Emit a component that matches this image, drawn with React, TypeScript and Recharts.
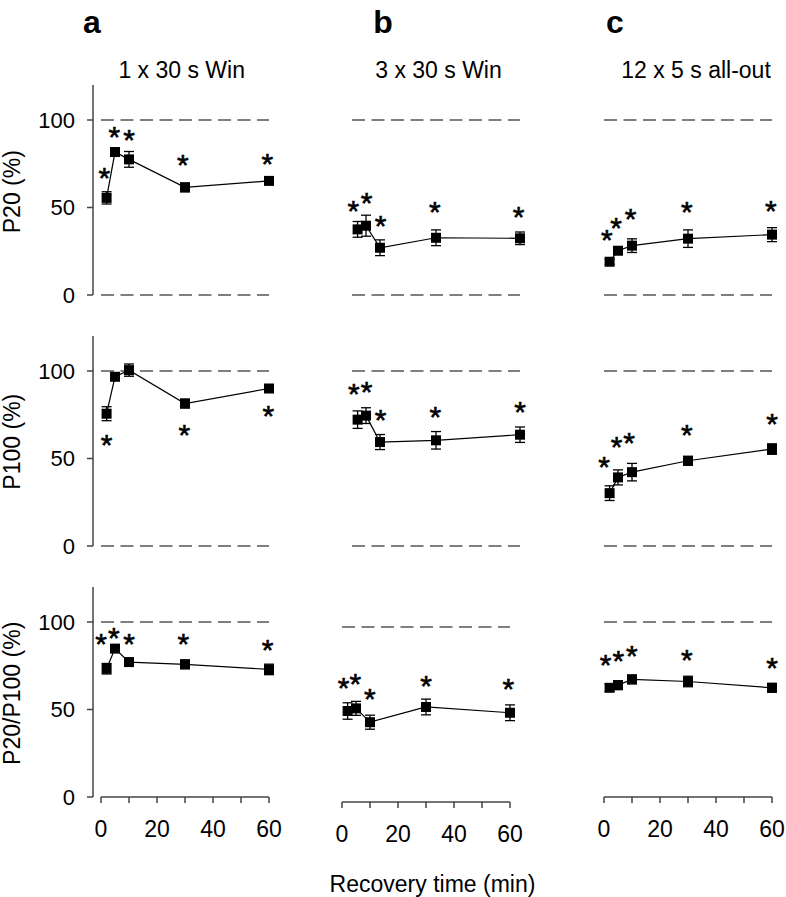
import React from 'react';
import { ComposedChart, Line, Scatter, XAxis, YAxis, ErrorBar, ReferenceLine } from 'recharts';

// recovery time points (min) and axis ticks
const TIMES = [2, 5, 10, 30, 60];
const X_TICKS = [0, 10, 20, 30, 40, 50, 60];
const Y_TICKS = [0, 50, 100];

const PANEL_LETTERS = ['a', 'b', 'c'];
const PANEL_TITLES = ['1 x 30 s Win', '3 x 30 s Win', '12 x 5 s all-out'];
const ROW_LABELS = ['P20 (%)', 'P100 (%)', 'P20/P100 (%)'];
const X_LABEL = 'Recovery time (min)';

// a: 1 x 30 s Win
const A_P20 = [55.5, 81.7, 77.5, 61.5, 65.2];
const A_P20_SEM = [3.5, 2, 4.5, 2.5, 2];
const A_P20_STARS = [[1.2, 70.5], [4.8, 93.9], [10, 92.4], [29.2, 78], [59.4, 78.7]];
const A_P100 = [75.6, 96.7, 100.5, 81.4, 90];
const A_P100_SEM = [4, 2, 3.5, 2.5, 2];
const A_P100_STARS = [[2, 61.7], [29.8, 67.4], [59.8, 77.9]];
const A_RATIO = [73.3, 84.8, 77.1, 75.8, 72.9];
const A_RATIO_SEM = [3, 2, 2, 2.5, 3];
const A_RATIO_STARS = [[0, 91], [4.6, 94.3], [10, 91], [29.4, 91], [59.5, 87.8]];

// b: 3 x 30 s Win
const B_P20 = [37.5, 39.6, 27, 32.7, 32.4];
const B_P20_SEM = [4.5, 6, 4.5, 4.5, 3.6];
const B_P20_STARS = [[0.5, 52], [5.2, 56.2], [10.2, 42.9], [29.6, 51], [59.5, 48.2]];
const B_P100 = [72.2, 74.5, 59.4, 60.4, 63.6];
const B_P100_SEM = [5, 4.5, 4.3, 5, 4.4];
const B_P100_STARS = [[0.7, 90.7], [5.2, 91.7], [10.2, 76], [29.8, 77.5], [60, 80.2]];
const B_RATIO = [52, 53.5, 45.6, 54.3, 51];
const B_RATIO_SEM = [4.7, 4, 4, 4.5, 4.5];
const B_RATIO_STARS = [[0.6, 68.7], [4.8, 71.2], [9.9, 62.4], [30, 70], [59.4, 68.1]];

// c: 12 x 5 s all-out
const C_P20 = [19, 25.3, 28.2, 32.2, 34.5];
const C_P20_SEM = [1.5, 2, 3.9, 5, 4];
const C_P20_STARS = [[1, 35.2], [4.3, 41.9], [9.5, 47], [29.6, 51.4], [59.6, 52]];
const C_P100 = [30.2, 39.2, 42.2, 48.7, 55.4];
const C_P100_SEM = [4.2, 4.3, 5, 2.5, 3];
const C_P100_STARS = [[0, 48.7], [4.5, 60.2], [9, 62.6], [29.6, 67], [60, 73.2]];
const C_RATIO = [62.4, 63.9, 67.2, 66, 62.4];
const C_RATIO_SEM = [2, 2.5, 2.5, 3, 2.5];
const C_RATIO_STARS = [[0.6, 79], [5.1, 81.5], [9.9, 84.4], [29.6, 81.9], [60, 77.7]];

const FONT = '"Liberation Sans", Arial, Helvetica, sans-serif';

// layout
const COL_X0 = [101, 352, 604]; // pixel of t = 0
const ROW_Y0 = [295, 546, 797]; // pixel of value = 0
const PLOT_H = 210;
const PAD_L = 8;
const PAD_R = 6;
const PLOT_W = PAD_L + 168 + PAD_R;
const Y_AXIS_W = 93;
const M_TOP = 10;
const M_RIGHT = 10;
const M_BOTTOM = 14;
const X_AXIS_H = 45;

const toPoints = (vals: number[], sem: number[]) =>
  TIMES.map((t, i) => ({ t, v: vals[i], e: sem[i] }));
const toStars = (stars: number[][]) => stars.map(([t, v]) => ({ t, v }));

const renderSquare = (p: any) => (
  <rect key={`sq-${p.index}`} x={p.cx - 5} y={p.cy - 5} width={10} height={10} fill="#000" />
);

const renderStar = (p: any) => (
  <text
    x={p.cx}
    y={p.cy + 16.5}
    textAnchor="middle"
    fontSize={30}
    fontFamily={FONT}
    fill="#000"
    stroke="#000"
    strokeWidth={0.6}
  >
    *
  </text>
);

interface PanelProps {
  values: number[];
  sem: number[];
  stars: number[][];
  row: number;
  col: number;
  shiftX?: number;
  shiftY?: number;
}

function Panel({ values, sem, stars, row, col, shiftX = 0, shiftY = 0 }: PanelProps) {
  const showY = col === 0;
  const showX = row === 2;
  const x0 = COL_X0[col] + shiftX;
  const y0 = ROW_Y0[row] + shiftY;
  const left = x0 - PAD_L - (showY ? Y_AXIS_W : 0);
  const top = y0 - PLOT_H - M_TOP;
  const width = (showY ? Y_AXIS_W : 0) + PLOT_W + M_RIGHT;
  const height = M_TOP + PLOT_H + (showX ? X_AXIS_H : 0) + M_BOTTOM;

  return (
    <div style={{ position: 'absolute', left, top }}>
      <ComposedChart
        width={width}
        height={height}
        margin={{ top: M_TOP, right: M_RIGHT, bottom: M_BOTTOM, left: 0 }}
      >
        <XAxis
          type="number"
          dataKey="t"
          domain={[0, 60]}
          ticks={X_TICKS}
          hide={!showX}
          height={X_AXIS_H}
          padding={{ left: PAD_L, right: PAD_R }}
          axisLine={false}
          tickLine={{ stroke: '#444', strokeWidth: 1.5 }}
          tickSize={6}
          tickMargin={18}
          tickFormatter={(v: number) => (v % 20 === 0 ? String(v) : '')}
          tick={{ fontSize: 23, fill: '#000', fontFamily: FONT }}
          interval={0}
        />
        <YAxis
          type="number"
          domain={[0, 120]}
          ticks={Y_TICKS}
          hide={!showY}
          width={Y_AXIS_W}
          axisLine={{ stroke: '#444', strokeWidth: 1.5 }}
          tickLine={{ stroke: '#444', strokeWidth: 1.5 }}
          tickSize={6}
          tickMargin={12}
          tick={{ fontSize: 22, fill: '#000', fontFamily: FONT }}
          interval={0}
        />
        <ReferenceLine
          segment={[{ x: 0, y: 100 }, { x: 60, y: 100 }]}
          stroke="#555"
          strokeWidth={1.5}
          strokeDasharray="13 6.5"
        />
        {showX ? (
          <ReferenceLine segment={[{ x: 0, y: 0 }, { x: 60, y: 0 }]} stroke="#444" strokeWidth={1.5} />
        ) : (
          <ReferenceLine
            segment={[{ x: 0, y: 0 }, { x: 60, y: 0 }]}
            stroke="#555"
            strokeWidth={1.5}
            strokeDasharray="13 6.5"
          />
        )}
        <Line
          data={toPoints(values, sem)}
          dataKey="v"
          type="linear"
          stroke="#000"
          strokeWidth={1.2}
          dot={renderSquare}
          activeDot={false}
          isAnimationActive={false}
        >
          <ErrorBar dataKey="e" width={5} stroke="#000" strokeWidth={1.3} direction="y" />
        </Line>
        <Scatter data={toStars(stars)} dataKey="v" shape={renderStar} isAnimationActive={false} />
      </ComposedChart>
    </div>
  );
}

export default function App() {
  return (
    <div
      style={{
        position: 'absolute',
        left: 0,
        top: 0,
        width: 786,
        height: 897,
        background: '#fff',
        fontFamily: FONT,
      }}
    >
      <Panel values={A_P20} sem={A_P20_SEM} stars={A_P20_STARS} row={0} col={0} />
      <Panel values={A_P100} sem={A_P100_SEM} stars={A_P100_STARS} row={1} col={0} />
      <Panel values={A_RATIO} sem={A_RATIO_SEM} stars={A_RATIO_STARS} row={2} col={0} />

      <Panel values={B_P20} sem={B_P20_SEM} stars={B_P20_STARS} row={0} col={1} />
      <Panel values={B_P100} sem={B_P100_SEM} stars={B_P100_STARS} row={1} col={1} />
      <Panel values={B_RATIO} sem={B_RATIO_SEM} stars={B_RATIO_STARS} row={2} col={1} shiftX={-10} shiftY={5} />

      <Panel values={C_P20} sem={C_P20_SEM} stars={C_P20_STARS} row={0} col={2} />
      <Panel values={C_P100} sem={C_P100_SEM} stars={C_P100_STARS} row={1} col={2} />
      <Panel values={C_RATIO} sem={C_RATIO_SEM} stars={C_RATIO_STARS} row={2} col={2} />

      {/* letters, titles and axis labels */}
      <svg
        width={786}
        height={897}
        style={{ position: 'absolute', left: 0, top: 0, pointerEvents: 'none' }}
        fontFamily={FONT}
      >
        {PANEL_LETTERS.map((l, i) => (
          <text key={l} x={[92, 383, 615][i]} y={33} textAnchor="middle" fontSize={32} fontWeight="bold">
            {l}
          </text>
        ))}
        {PANEL_TITLES.map((t, i) => (
          <text key={t} x={[181.7, 438.5, 696][i]} y={78.3} textAnchor="middle" fontSize={23}>
            {t}
          </text>
        ))}
        {ROW_LABELS.map((t, i) => (
          <text
            key={t}
            transform={`translate(20,${[191.7, 441.7, 693.3][i]}) rotate(-90)`}
            textAnchor="middle"
            fontSize={23}
          >
            {t}
          </text>
        ))}
        <text x={432.5} y={891.7} textAnchor="middle" fontSize={23}>
          {X_LABEL}
        </text>
      </svg>
    </div>
  );
}
